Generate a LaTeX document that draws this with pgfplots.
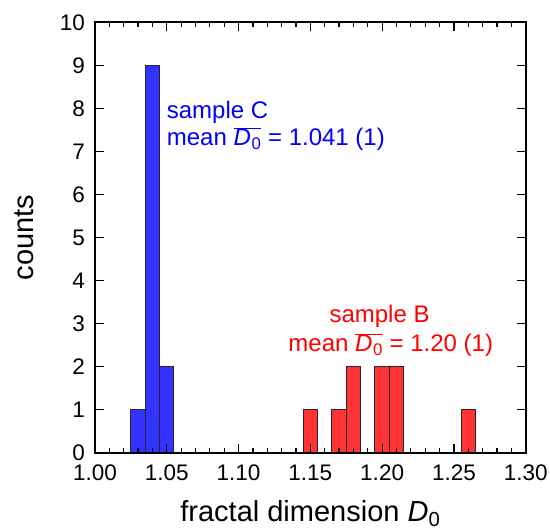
\documentclass[border=0pt]{standalone}
\usepackage{fontspec}
\setmainfont{Liberation Sans}
\usepackage{pgfplots}
\pgfplotsset{compat=1.18}
\definecolor{barblue}{RGB}{51,51,255}
\definecolor{barred}{RGB}{255,51,51}
\newcommand\Dbar{\ensuremath{\overline{\hbox{\itshape D\kern0.03em\textsubscript{\upshape 0}}}}}
\begin{document}
\begin{tikzpicture}
\begin{axis}[
  scale only axis, width=430.7bp, height=430.4bp,
  xmin=1.0, xmax=1.3, ymin=0, ymax=10,
  xtick={1.00,1.05,1.10,1.15,1.20,1.25,1.30},
  minor x tick num=4,
  ytick={0,1,2,3,4,5,6,7,8,9,10},
  tick align=inside, tick pos=both,
  major tick length=9bp, minor tick length=5bp,
  every tick/.style={black, line width=1.2bp},
  axis line style={line width=1.6bp},
  axis on top,
  /pgf/number format/assume math mode=true,
  ticklabel style={font=\fontsize{22.5bp}{27bp}\selectfont, inner sep=0pt},
  xticklabel={\pgfmathprintnumber[fixed,fixed zerofill,precision=2]{\tick}},
  xticklabel style={yshift=-12bp},
  yticklabel style={xshift=-10bp},
  xlabel={fractal dimension \textit{D}\textsubscript{0}},
  xlabel style={font=\fontsize{29bp}{34bp}\selectfont, at={(axis description cs:0.5,-0.159)}, anchor=base},
  ylabel={counts},
  ylabel style={font=\fontsize{29bp}{34bp}\selectfont, at={(axis description cs:-0.165,0.5)}, anchor=center},
]
\addplot[ybar, bar width=0.01, bar shift=0pt, fill=barblue, draw=black!85, line width=1bp]
  coordinates {(1.03,1) (1.04,9) (1.05,2)};
\addplot[ybar, bar width=0.01, bar shift=0pt, fill=barred, draw=black!85, line width=1bp]
  coordinates {(1.15,1) (1.17,1) (1.18,2) (1.20,2) (1.21,2) (1.26,1)};
\node[anchor=base west, inner sep=0, text=blue, font=\fontsize{24bp}{28bp}\selectfont] at (axis cs:1.0499,7.776) {sample C};
\node[anchor=base west, inner sep=0, text=blue, font=\fontsize{24bp}{28bp}\selectfont] at (axis cs:1.0499,7.126) {mean \Dbar{} = 1.041 (1)};
\node[anchor=base west, inner sep=0, text=red, font=\fontsize{24bp}{28bp}\selectfont] at (axis cs:1.1632,3.02) {sample B};
\node[anchor=base west, inner sep=0, text=red, font=\fontsize{24bp}{28bp}\selectfont] at (axis cs:1.1346,2.347) {mean \Dbar{} = 1.20 (1)};
\coordinate (bl) at (rel axis cs:0,0);
\end{axis}
\pgfresetboundingbox
\path (bl) ++(-95bp,-78.3bp) rectangle ++(550bp,531bp);
\end{tikzpicture}
\end{document}
